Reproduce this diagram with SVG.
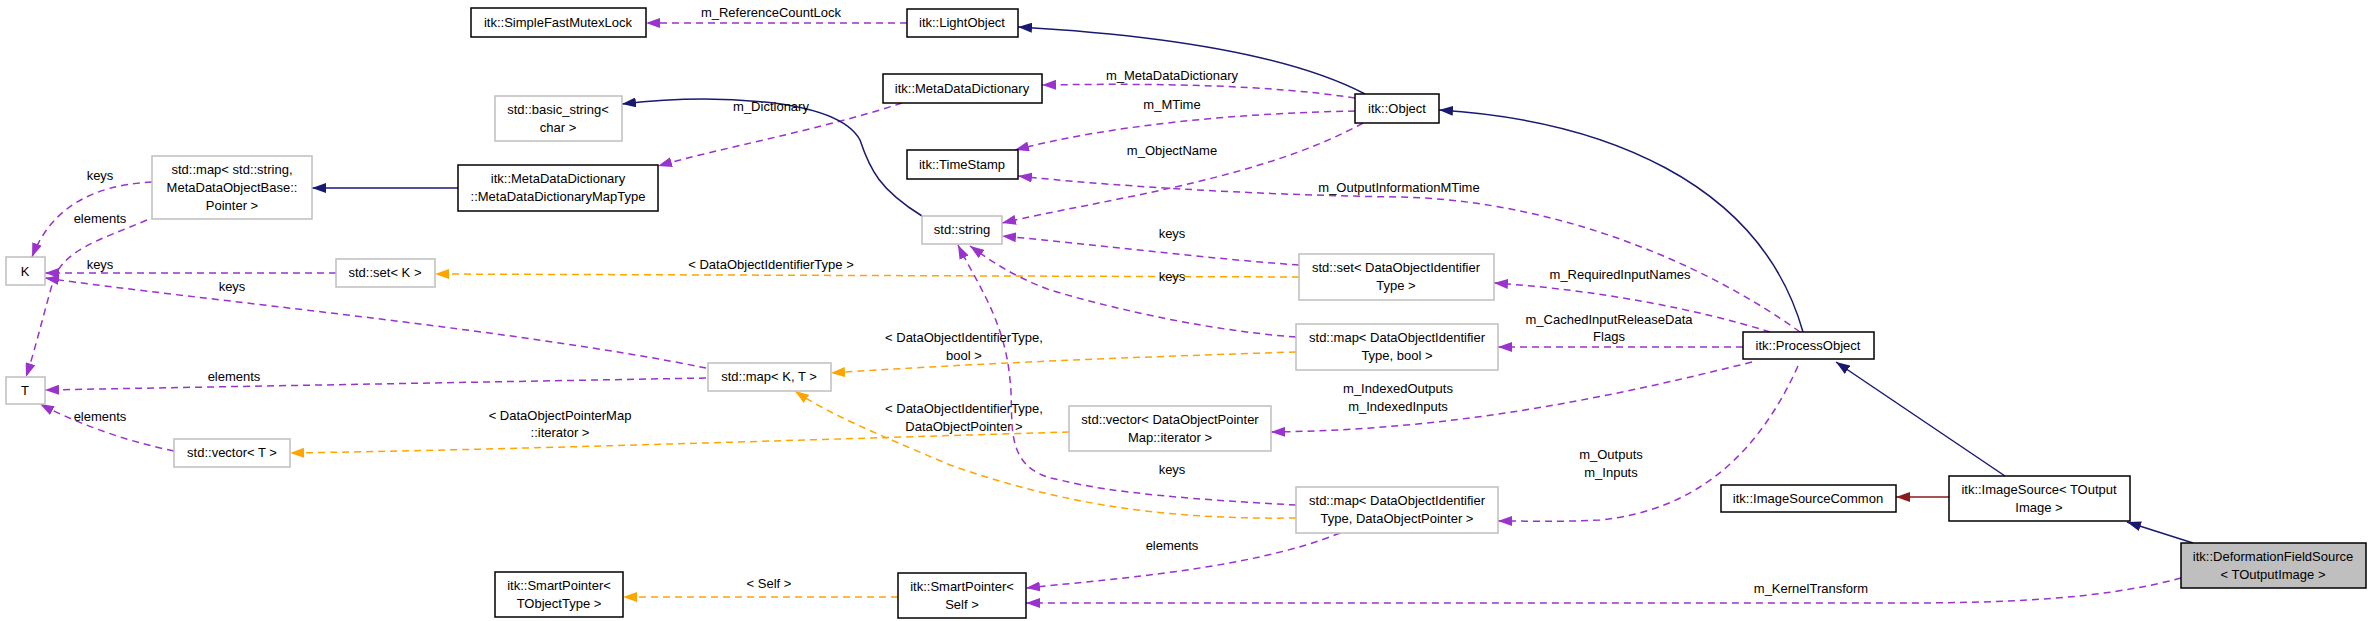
<svg xmlns="http://www.w3.org/2000/svg" width="2368" height="621" viewBox="0 0 2368 621">
<style>
text{font-family:"Liberation Sans",Arial,sans-serif;font-size:13px;fill:#000;text-anchor:middle}
.n rect{fill:#fff;stroke:#000;stroke-width:1.5}
.g rect{fill:#fff;stroke:#bfbfbf;stroke-width:1.5}
.e path{fill:none;stroke-width:1.5}
.p{stroke:#9a32cd;stroke-dasharray:7,5}
.o{stroke:#ffa500;stroke-dasharray:7,5}
.b{stroke:#191970}
.r{stroke:#8b1a1a}
</style>
<defs>
<marker id="mp" viewBox="0 0 14 10" refX="14" refY="5" markerWidth="14" markerHeight="10" markerUnits="userSpaceOnUse" orient="auto"><path d="M0,0L14,5L0,10z" fill="#9a32cd"/></marker>
<marker id="mo" viewBox="0 0 14 10" refX="14" refY="5" markerWidth="14" markerHeight="10" markerUnits="userSpaceOnUse" orient="auto"><path d="M0,0L14,5L0,10z" fill="#ffa500"/></marker>
<marker id="mb" viewBox="0 0 14 10" refX="14" refY="5" markerWidth="14" markerHeight="10" markerUnits="userSpaceOnUse" orient="auto"><path d="M0,0L14,5L0,10z" fill="#191970"/></marker>
<marker id="mr" viewBox="0 0 14 10" refX="14" refY="5" markerWidth="14" markerHeight="10" markerUnits="userSpaceOnUse" orient="auto"><path d="M0,0L14,5L0,10z" fill="#8b1a1a"/></marker>
</defs>
<g id="edges" class="e">
<path class="p" marker-end="url(#mp)" d="M907,23L646,23"/>
<path class="b" marker-end="url(#mb)" d="M1365,94C1290,55 1160,35 1018,27"/>
<path class="p" marker-end="url(#mp)" d="M1355,98C1270,85 1160,83 1042,85"/>
<path class="p" marker-end="url(#mp)" d="M1355,111C1240,113 1110,125 1015,150"/>
<path class="p" marker-end="url(#mp)" d="M1363,123C1260,180 1100,200 1002,223"/>
<path class="p" marker-end="url(#mp)" d="M902,103C820,130 720,148 658,166"/>
<path class="b" marker-end="url(#mb)" d="M922,216C880,190 870,170 860,140C835,95 700,95 622,104"/>
<path class="b" marker-end="url(#mb)" d="M458,188L312,188"/>
<path class="p" marker-end="url(#mp)" d="M152,182C90,185 50,210 32,257"/>
<path class="p" marker-end="url(#mp)" d="M147,220C100,240 60,250 52,285C42,320 35,350 26,377"/>
<path class="p" marker-end="url(#mp)" d="M336,273L45,273"/>
<path class="p" marker-end="url(#mp)" d="M706,368C520,330 200,300 45,278"/>
<path class="p" marker-end="url(#mp)" d="M706,378L45,390"/>
<path class="p" marker-end="url(#mp)" d="M174,451C120,440 70,420 40,404"/>
<path class="o" marker-end="url(#mo)" d="M1299,277L435,274"/>
<path class="o" marker-end="url(#mo)" d="M1296,352C1100,358 950,365 831,373"/>
<path class="o" marker-end="url(#mo)" d="M1296,518C1150,520 1050,500 950,465C880,435 830,415 795,391"/>
<path class="o" marker-end="url(#mo)" d="M1069,432C800,440 500,450 290,453"/>
<path class="o" marker-end="url(#mo)" d="M898,597L623,597"/>
<path class="p" marker-end="url(#mp)" d="M1299,265C1200,258 1100,245 1002,236"/>
<path class="p" marker-end="url(#mp)" d="M1296,337C1200,330 1100,305 1050,290C1010,275 990,260 970,246"/>
<path class="p" marker-end="url(#mp)" d="M1296,505C1200,500 1110,493 1060,480C1000,470 1015,420 1010,380C1005,320 975,280 958,245"/>
<path class="p" marker-end="url(#mp)" d="M1340,533C1250,570 1100,580 1026,588"/>
<path class="p" marker-end="url(#mp)" d="M1800,332C1700,260 1550,200 1400,197C1250,195 1100,185 1018,176"/>
<path class="p" marker-end="url(#mp)" d="M1770,332C1700,310 1600,290 1494,283"/>
<path class="p" marker-end="url(#mp)" d="M1743,347L1498,347"/>
<path class="p" marker-end="url(#mp)" d="M1752,362C1600,400 1450,430 1271,432"/>
<path class="p" marker-end="url(#mp)" d="M1798,366C1760,450 1700,510 1600,520C1560,522 1530,521 1498,521"/>
<path class="b" marker-end="url(#mb)" d="M1803,332C1760,180 1600,120 1439,110"/>
<path class="b" marker-end="url(#mb)" d="M2005,476L1836,362"/>
<path class="r" marker-end="url(#mr)" d="M1949,497L1896,497"/>
<path class="b" marker-end="url(#mb)" d="M2193,543L2127,522"/>
<path class="p" marker-end="url(#mp)" d="M2181,578C2100,600 2000,603 1900,603L1026,603"/>
</g>
<g id="labels">
<text x="771" y="17">m_ReferenceCountLock</text>
<text x="1172" y="80">m_MetaDataDictionary</text>
<text x="1172" y="109">m_MTime</text>
<text x="1172" y="155">m_ObjectName</text>
<text x="771" y="111">m_Dictionary</text>
<text x="100" y="180">keys</text>
<text x="100" y="223">elements</text>
<text x="100" y="269">keys</text>
<text x="232" y="291">keys</text>
<text x="771" y="269">&lt; DataObjectIdentifierType &gt;</text>
<text x="234" y="381">elements</text>
<text x="100" y="421">elements</text>
<text x="560" y="420">&lt; DataObjectPointerMap</text>
<text x="560" y="437">::iterator &gt;</text>
<text x="769" y="588">&lt; Self &gt;</text>
<text x="1399" y="192">m_OutputInformationMTime</text>
<text x="1172" y="238">keys</text>
<text x="1172" y="281">keys</text>
<text x="1620" y="279">m_RequiredInputNames</text>
<text x="1609" y="324">m_CachedInputReleaseData</text>
<text x="1609" y="341">Flags</text>
<text x="964" y="342">&lt; DataObjectIdentifierType,</text>
<text x="964" y="360">bool &gt;</text>
<text x="964" y="413">&lt; DataObjectIdentifierType,</text>
<text x="964" y="431">DataObjectPointer &gt;</text>
<text x="1398" y="393">m_IndexedOutputs</text>
<text x="1398" y="411">m_IndexedInputs</text>
<text x="1172" y="474">keys</text>
<text x="1611" y="459">m_Outputs</text>
<text x="1611" y="477">m_Inputs</text>
<text x="1172" y="550">elements</text>
<text x="1811" y="593">m_KernelTransform</text>
</g>
<g id="n1" class="n"><rect x="471" y="8" width="175" height="29"/><text x="558" y="27">itk::SimpleFastMutexLock</text></g>
<g id="n2" class="n"><rect x="907" y="9" width="111" height="28"/><text x="962" y="27">itk::LightObject</text></g>
<g id="n3" class="n"><rect x="883" y="74" width="159" height="29"/><text x="962" y="93">itk::MetaDataDictionary</text></g>
<g id="n4" class="n"><rect x="1355" y="94" width="84" height="29"/><text x="1397" y="113">itk::Object</text></g>
<g id="n5" class="n"><rect x="907" y="150" width="111" height="29"/><text x="962" y="169">itk::TimeStamp</text></g>
<g id="n6" class="g"><rect x="922" y="216" width="80" height="28"/><text x="962" y="234">std::string</text></g>
<g id="n7" class="g"><rect x="495" y="96" width="127" height="45"/><text x="558" y="114">std::basic_string&lt;</text><text x="558" y="132">char &gt;</text></g>
<g id="n8" class="n"><rect x="458" y="165" width="200" height="46"/><text x="558" y="183">itk::MetaDataDictionary</text><text x="558" y="201">::MetaDataDictionaryMapType</text></g>
<g id="n9" class="g"><rect x="152" y="156" width="160" height="63"/><text x="232" y="174">std::map&lt; std::string,</text><text x="232" y="192">MetaDataObjectBase::</text><text x="232" y="210">Pointer &gt;</text></g>
<g id="n10" class="g"><rect x="6" y="257" width="39" height="28"/><text x="25" y="276">K</text></g>
<g id="n11" class="g"><rect x="6" y="377" width="39" height="27"/><text x="25" y="395">T</text></g>
<g id="n12" class="g"><rect x="336" y="259" width="99" height="28"/><text x="385" y="277">std::set&lt; K &gt;</text></g>
<g id="n13" class="g"><rect x="708" y="363" width="123" height="28"/><text x="769" y="381">std::map&lt; K, T &gt;</text></g>
<g id="n14" class="g"><rect x="174" y="439" width="116" height="28"/><text x="232" y="457">std::vector&lt; T &gt;</text></g>
<g id="n15" class="n"><rect x="495" y="572" width="128" height="45"/><text x="559" y="590">itk::SmartPointer&lt;</text><text x="559" y="608">TObjectType &gt;</text></g>
<g id="n16" class="n"><rect x="898" y="573" width="128" height="45"/><text x="962" y="591">itk::SmartPointer&lt;</text><text x="962" y="609">Self &gt;</text></g>
<g id="n17" class="g"><rect x="1299" y="254" width="195" height="46"/><text x="1396" y="272">std::set&lt; DataObjectIdentifier</text><text x="1396" y="290">Type &gt;</text></g>
<g id="n18" class="g"><rect x="1296" y="324" width="202" height="46"/><text x="1397" y="342">std::map&lt; DataObjectIdentifier</text><text x="1397" y="360">Type, bool &gt;</text></g>
<g id="n19" class="g"><rect x="1069" y="406" width="202" height="45"/><text x="1170" y="424">std::vector&lt; DataObjectPointer</text><text x="1170" y="442">Map::iterator &gt;</text></g>
<g id="n20" class="g"><rect x="1296" y="487" width="202" height="46"/><text x="1397" y="505">std::map&lt; DataObjectIdentifier</text><text x="1397" y="523">Type, DataObjectPointer &gt;</text></g>
<g id="n21" class="n"><rect x="1743" y="332" width="131" height="27"/><text x="1808" y="350">itk::ProcessObject</text></g>
<g id="n22" class="n"><rect x="1721" y="485" width="175" height="27"/><text x="1808" y="503">itk::ImageSourceCommon</text></g>
<g id="n23" class="n"><rect x="1949" y="476" width="181" height="45"/><text x="2039" y="494">itk::ImageSource&lt; TOutput</text><text x="2039" y="512">Image &gt;</text></g>
<g id="n24" class="n"><rect x="2181" y="543" width="185" height="45" style="fill:#bfbfbf"/><text x="2273" y="561">itk::DeformationFieldSource</text><text x="2273" y="579">&lt; TOutputImage &gt;</text></g>
</svg>
